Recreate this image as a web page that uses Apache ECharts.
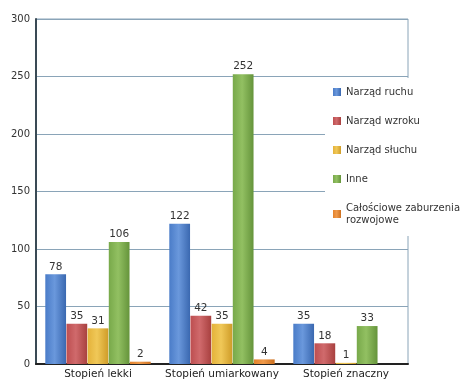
<!DOCTYPE html>
<html>
<head>
<meta charset="utf-8">
<script src="https://cdn.jsdelivr.net/npm/echarts@6/dist/echarts.min.js"></script>
<style>
  html, body { margin: 0; padding: 0; background: #fff; }
  #chart { width: 465px; height: 382px; }
</style>
</head>
<body>
<div id="chart"></div>
<script>
const categories = ['Stopień lekki', 'Stopień umiarkowany', 'Stopień znaczny'];
const seriesNames = ['Narząd ruchu', 'Narząd wzroku', 'Narząd słuchu', 'Inne', 'Całościowe zaburzenia\nrozwojowe'];
const ruchu = [78, 122, 35];
const wzroku = [35, 42, 18];
const sluchu = [31, 35, 1];
const inne = [106, 252, 33];
const calosciowe = [2, 4, null];
const yTicks = [0, 50, 100, 150, 200, 250, 300];

// base, highlight, shadow
const colors = [
  ['#4a7cc8', '#6a98dc', '#3a68b0'],
  ['#bd4e50', '#d06a6c', '#a8403f'],
  ['#e4b23a', '#f0c858', '#cf9c28'],
  ['#78a94a', '#92c062', '#65943b'],
  ['#e4832c', '#f09a4a', '#cc7020']
];

function grad(c) {
  return new echarts.graphic.LinearGradient(0, 0, 1, 0, [
    { offset: 0, color: c[0] },
    { offset: 0.45, color: c[1] },
    { offset: 1, color: c[2] }
  ]);
}

const allData = [ruchu, wzroku, sluchu, inne, calosciowe];

const chart = echarts.init(document.getElementById('chart'));

const option = {
  animation: false,
  textStyle: { fontFamily: 'DejaVu Sans' },
  grid: {
    left: 36, right: 57, top: 19, bottom: 18,
    show: true, borderColor: '#8aa4b8', borderWidth: 1
  },
  legend: {
    orient: 'vertical',
    left: 325,
    top: 78,
    padding: [8, 12, 10, 8],
    backgroundColor: '#fff',
    itemWidth: 8,
    itemHeight: 8,
    itemGap: 17,
    icon: 'rect',
    z: 10,
    textStyle: { fontSize: 10, color: '#333', lineHeight: 12 },
    data: seriesNames
  },
  xAxis: {
    type: 'category',
    data: categories,
    axisLine: { lineStyle: { color: '#222', width: 2 } },
    axisTick: { show: false },
    axisLabel: { fontSize: 10.5, color: '#222', margin: 5, interval: 0 }
  },
  yAxis: {
    type: 'value',
    min: yTicks[0],
    max: yTicks[yTicks.length - 1],
    interval: 50,
    axisLine: { show: true, lineStyle: { color: '#3a4a55', width: 2 } },
    axisTick: { show: false },
    axisLabel: { fontSize: 10, color: '#333', margin: 6 },
    splitLine: { lineStyle: { color: '#8aa4b8', width: 1 } }
  },
  series: seriesNames.map((name, i) => ({
    name: name,
    type: 'bar',
    data: allData[i],
    barGap: '2%',
    barCategoryGap: '15%',
    itemStyle: { color: grad(colors[i]) },
    label: {
      show: true,
      position: 'top',
      distance: 2,
      fontSize: 10.5,
      color: '#333'
    }
  }))
};

chart.setOption(option);
</script>
</body>
</html>
